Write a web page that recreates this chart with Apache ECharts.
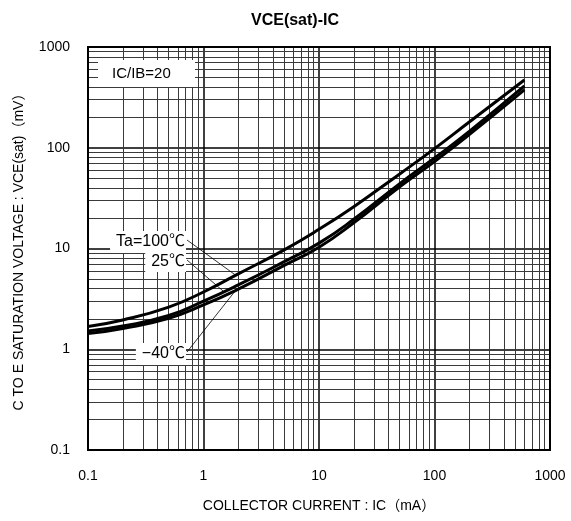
<!DOCTYPE html>
<html><head><meta charset="utf-8">
<script src="https://cdn.jsdelivr.net/npm/echarts@6/dist/echarts.min.js"></script>
<style>html,body{margin:0;padding:0;background:#fff}#c{width:571px;height:521px}</style>
</head><body><div id="c"></div>
<script>
var currents = [0.1, 0.2, 0.5, 1, 2, 5, 10, 20, 50, 100, 200, 600];
var vce100 = [1.68, 1.95, 2.62, 3.70, 5.6, 9.7, 15.5, 26, 55, 98, 180, 470];
var vce25  = [1.52, 1.70, 2.16, 3.00, 4.35, 7.4, 11.3, 19.5, 44, 79, 145, 410];
var vceM40 = [1.43, 1.61, 2.03, 2.75, 3.95, 6.8, 10.3, 18, 41, 73, 135, 375];
var xTicks = [0.1, 1, 10, 100, 1000];
var yTicks = [0.1, 1, 10, 100, 1000];
var minorMult = [2, 3, 4, 5, 6, 7, 8, 9];

function minorVals(ticks) {
  var out = [];
  for (var i = 0; i < ticks.length - 1; i++)
    for (var j = 0; j < minorMult.length; j++) out.push(+(ticks[i] * minorMult[j]).toPrecision(3));
  return out;
}
function pairs(xs, ys) { return xs.map(function (x, i) { return [x, ys[i]]; }); }
function fmt(v) { return String(+v.toPrecision(3)); }

var font = 'Arial, "Liberation Sans", "Noto Sans CJK JP", sans-serif';
var jfont = '"Liberation Sans", "Noto Sans CJK JP", sans-serif';
var gridMarks = [];
minorVals(xTicks).forEach(function (v) { gridMarks.push({ xAxis: v }); });
minorVals(yTicks).forEach(function (v) { gridMarks.push({ yAxis: v }); });

var chart = echarts.init(document.getElementById('c'));
var curveStyle = { color: '#000', width: 3 };
function curve(name, ys) {
  return { type: 'line', name: name, data: pairs(currents, ys), smooth: 0.5,
    showSymbol: false, lineStyle: curveStyle, z: 5 };
}
chart.setOption({
  animation: false,
  title: { text: 'VCE(sat)-IC', left: 290, top: 8, textAlign: 'center',
    textStyle: { fontFamily: font, fontSize: 16, fontWeight: 'bold', color: '#000' } },
  grid: { left: 88, right: 21, top: 47, bottom: 71 },
  xAxis: { type: 'log', logBase: 10, min: 0.1, max: 1000,
    name: 'COLLECTOR CURRENT : IC（mA）', nameLocation: 'middle', nameGap: 49,
    nameTextStyle: { fontFamily: font, fontSize: 14, color: '#000' },
    axisLine: { show: false }, axisTick: { show: false },
    axisLabel: { fontFamily: font, fontSize: 14, color: '#000', margin: 19, formatter: fmt },
    splitLine: { show: true, lineStyle: { color: '#000', width: 1.5 } } },
  yAxis: { type: 'log', logBase: 10, min: 0.1, max: 1000,
    name: 'C TO E SATURATION VOLTAGE : VCE(sat)（mV）', nameLocation: 'middle', nameGap: 62,
    nameTextStyle: { fontFamily: font, fontSize: 14, color: '#000' },
    axisLine: { show: false }, axisTick: { show: false },
    axisLabel: { fontFamily: font, fontSize: 14, color: '#000', margin: 18, formatter: fmt },
    splitLine: { show: true, lineStyle: { color: '#000', width: 1.5 } } },
  series: [
    { type: 'line', data: [], silent: true,
      markLine: { silent: true, symbol: 'none', animation: false, label: { show: false },
        lineStyle: { color: '#3a3a3a', width: 1, type: 'solid' }, data: gridMarks } },
    curve('Ta=100℃', vce100),
    curve('25℃', vce25),
    curve('-40℃', vceM40)
  ]
});

function interpLog(xs, ys, x) {
  var lx = Math.log10(x);
  for (var i = 0; i < xs.length - 1; i++) {
    var a = Math.log10(xs[i]), b = Math.log10(xs[i + 1]);
    if (lx >= a && lx <= b) {
      var t = (lx - a) / (b - a);
      return Math.pow(10, Math.log10(ys[i]) + t * (Math.log10(ys[i + 1]) - Math.log10(ys[i])));
    }
  }
  return ys[ys.length - 1];
}
var rect = { x: 88, y: 47, width: 462, height: 403 };
var g = [
  { type: 'rect', shape: rect, style: { fill: 'none', stroke: '#000', lineWidth: 2 }, z: 20 },
  { type: 'rect', shape: { x: 98, y: 60, width: 97, height: 27 }, style: { fill: '#fff' }, z: 14 },
  { type: 'text', x: 112, y: 74, style: { text: 'IC/IB=20', font: '15px ' + jfont, fill: '#000', align: 'left', verticalAlign: 'middle' }, z: 15 }
];
var labels = [
  { t: 'Ta=100℃', x: 186, y: 242, cx: 1.9, ys: vce100, pad: [3, 1, 3, 6] },
  { t: '25℃', x: 186, y: 262, cx: 1.5, ys: vce25, pad: [2, 1, 2, 6] },
  { t: '−40℃', x: 186, y: 354, cx: 1.9, ys: vceM40, pad: [3, 1, 3, 6] }
];
labels.forEach(function (l) {
  var p = chart.convertToPixel({ gridIndex: 0 }, [l.cx, interpLog(currents, l.ys, l.cx)]);
  g.push({ type: 'line', shape: { x1: l.x + 1, y1: l.y - 2, x2: p[0], y2: p[1] }, style: { stroke: '#000', lineWidth: 0.8 }, z: 16 });
  g.push({ type: 'text', x: l.x, y: l.y, style: { text: l.t, font: '16px ' + jfont, fill: '#000', align: 'right', verticalAlign: 'middle',
      backgroundColor: '#fff', padding: l.pad }, z: 17 });
});
chart.setOption({ graphic: g });
</script></body></html>
